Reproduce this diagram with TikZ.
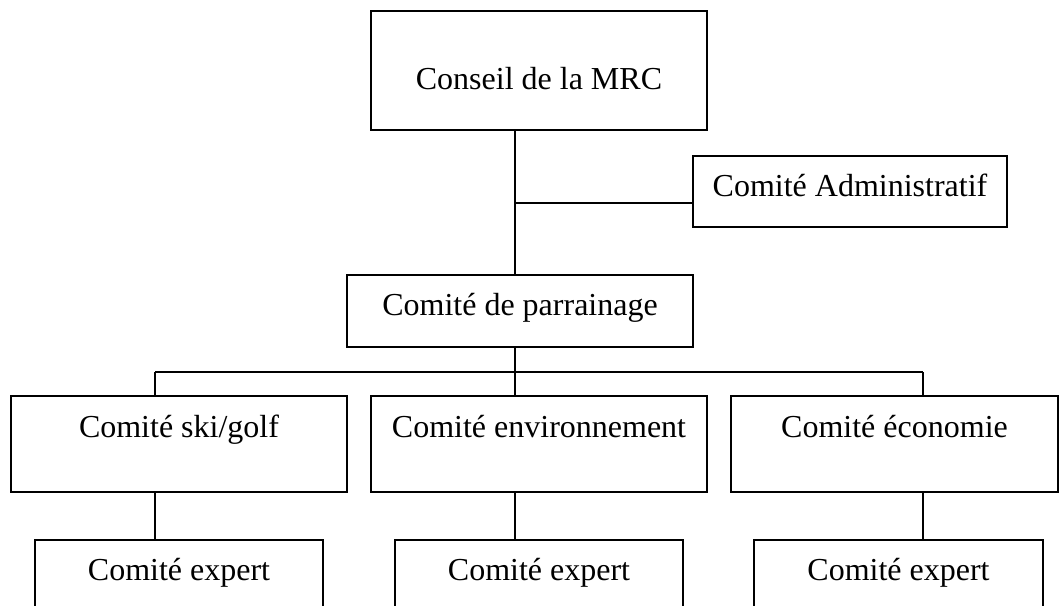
\documentclass[tikz,border=0pt]{standalone}
\usepackage{fontspec}
\setmainfont{Liberation Serif}
\begin{document}
\begin{tikzpicture}[x=1pt,y=-1pt,
  box/.style={draw=black,line width=1.8pt,inner sep=0pt,minimum width=#1},
  lbl/.style={anchor=base,inner sep=0pt,font=\fontsize{32}{38}\selectfont},
  conn/.style={draw=black,line width=1.8pt}]
\useasboundingbox[fill=white] (0,0) rectangle (1060,605);
\clip (0,0) rectangle (1060,605);
% boxes
\node[box=336pt,minimum height=119pt] (conseil) at (539,70.5) {};
\node[box=314pt,minimum height=71pt] (admin) at (850,191.5) {};
\node[box=346pt,minimum height=72pt] (parr) at (520,311) {};
\node[box=336pt,minimum height=96pt] (ski) at (179,444) {};
\node[box=336pt,minimum height=96pt] (env) at (539,444) {};
\node[box=327pt,minimum height=96pt] (eco) at (894.5,444) {};
\node[box=288pt,minimum height=90pt] (exp1) at (179,585) {};
\node[box=288pt,minimum height=90pt] (exp2) at (539,585) {};
\node[box=289pt,minimum height=90pt] (exp3) at (898.5,585) {};
% labels
\node[lbl] (tconseil) at (539,89) {Conseil de la MRC};
\node[lbl] (tadmin) at (850,196) {Comité Administratif};
\node[lbl] (tparr) at (520,315) {Comité de parrainage};
\node[lbl] (tski) at (179,437) {Comité ski/golf};
\node[lbl] (tenv) at (539,437) {Comité environnement};
\node[lbl] (teco) at (894.5,437) {Comité économie};
\node[lbl] (texp1) at (179,580) {Comité expert};
\node[lbl] (texp2) at (539,580) {Comité expert};
\node[lbl] (texp3) at (898.5,580) {Comité expert};
% connector points
\coordinate (ja) at (515,203);
\coordinate (bus) at (515,372);
\coordinate (b1) at (155,372);
\coordinate (b3) at (923,372);
% connectors
\draw[conn] (conseil.south -| ja) -- (parr.north -| ja);
\draw[conn] (ja) -- (admin.west |- ja);
\draw[conn] (parr.south -| bus) -- (bus);
\draw[conn] (b1) -- (b3);
\draw[conn] (b1) -- (ski.north -| b1);
\draw[conn] (bus) -- (env.north -| bus);
\draw[conn] (b3) -- (eco.north -| b3);
\draw[conn] (ski.south -| b1) -- (exp1.north -| b1);
\draw[conn] (env.south -| bus) -- (exp2.north -| bus);
\draw[conn] (eco.south -| b3) -- (exp3.north -| b3);
\end{tikzpicture}
\end{document}
